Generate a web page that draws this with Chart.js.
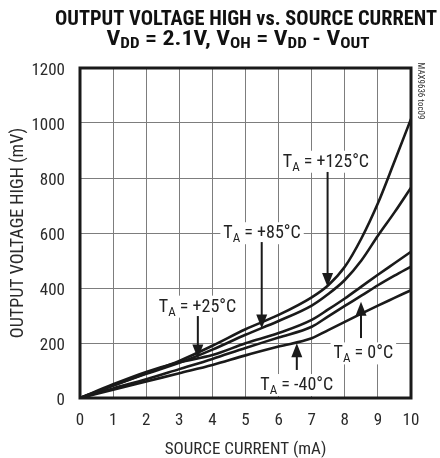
<!DOCTYPE html>
<html><head><meta charset="utf-8">
<script src="https://cdn.jsdelivr.net/npm/chart.js@4.4.0/dist/chart.umd.min.js"></script>
<style>html,body{margin:0;padding:0;background:#fff;}#wrap{width:440px;height:458px;}</style>
</head><body><div id="wrap"><canvas id="c" width="440" height="458"></canvas></div>
<script>
// ---- data ----
const sourceCurrent = [0, 1, 2, 3, 4, 5, 6, 7, 7.5, 8, 8.5, 9, 9.5, 10];          // mA
const voh125 = [0, 45, 90, 135, 190, 250, 302, 366, 410, 477, 580, 708, 860, 1015];  // mV
const voh85  = [0, 45, 88, 128, 176, 230, 280, 336, 378, 429, 500, 590, 675, 765];
const voh25  = [0, 50, 95, 130, 156, 199, 236, 284, 322, 362, 405, 448, 490, 532];
const voh0   = [0, 35, 68, 105, 142, 182, 220, 259, 297, 335, 372, 410, 445, 478];
const vohM40 = [0, 30, 60, 90, 120, 155, 187, 217, 247, 277, 307, 336, 364, 392];
const xTicks = [0, 1, 2, 3, 4, 5, 6, 7, 8, 9, 10];
const yTicks = [0, 200, 400, 600, 800, 1000, 1200];
const tempLabels = ['+125°C', '+85°C', '+25°C', '0°C', '-40°C'];
// label anchor (centre x, baseline y) and arrow (x, from y, to y) in data units
const labelAt = [[7.43, 841], [5.5, 581], [3.55, 314], [8.56, 144], [6.55, 29]];
const arrowAt = [[7.48, 822, 404], [5.49, 567, 253], [3.56, 298, 144], [8.49, 218, 350], [6.55, 102, 199]];

const FONT = "'Liberation Sans Narrow', 'Roboto Condensed', 'Liberation Sans', Arial, sans-serif";
const INK = '#1a1a1a';

function toPts(ys) { return sourceCurrent.map((x, i) => ({ x: x, y: ys[i] })); }
const series = [voh125, voh85, voh25, voh0, vohM40];

function drawRich(ctx, parts, cx, base, targetW, size, subSize, subDrop, weight) {
  let w = 0;
  const widths = parts.map(p => {
    ctx.font = weight + ' ' + (p.sub ? subSize : size) + 'px ' + FONT;
    const m = ctx.measureText(p.t).width; w += m; return m;
  });
  const sx = targetW ? targetW / w : 1;
  ctx.save();
  ctx.translate(cx - (w * sx) / 2, base);
  ctx.scale(sx, 1);
  let x = 0;
  ctx.textBaseline = 'alphabetic';
  ctx.textAlign = 'left';
  parts.forEach((p, i) => {
    ctx.font = weight + ' ' + (p.sub ? subSize : size) + 'px ' + FONT;
    ctx.fillText(p.t, x, p.sub ? subDrop : 0);
    x += widths[i];
  });
  ctx.restore();
  return w * sx;
}

const deco = {
  id: 'deco',
  beforeDatasetsDraw(chart) {
    const { ctx, chartArea: a } = chart;
    ctx.save();
    ctx.strokeStyle = INK; ctx.lineWidth = 3;
    ctx.strokeRect(a.left, a.top, a.right - a.left, a.bottom - a.top);
    ctx.restore();
  },
  afterDatasetsDraw(chart) {
    const { ctx } = chart;
    const xs = chart.scales.x, ys = chart.scales.y;
    ctx.save();
    ctx.fillStyle = INK;
    tempLabels.forEach((lab, i) => {
      const cx = xs.getPixelForValue(labelAt[i][0]);
      const by = ys.getPixelForValue(labelAt[i][1]);
      const parts = [{ t: 'T' }, { t: 'A', sub: true }, { t: ' = ' + lab }];
      let w = 0;
      parts.forEach(p => { ctx.font = (p.sub ? 13 : 18) + 'px ' + FONT; w += ctx.measureText(p.t).width; });
      ctx.fillStyle = '#fff';
      ctx.fillRect(cx - w / 2 - 3, by - 16, w + 6, 22);
      ctx.fillStyle = '#222';
      drawRich(ctx, parts, cx, by, 0, 18, 13, 4, 'normal');
      const ax = xs.getPixelForValue(arrowAt[i][0]);
      const y0 = ys.getPixelForValue(arrowAt[i][1]);
      const y1 = ys.getPixelForValue(arrowAt[i][2]);
      const dir = y1 > y0 ? 1 : -1;
      const headL = 14, headW = 5.5;
      ctx.fillStyle = INK;
      ctx.strokeStyle = INK; ctx.lineWidth = 2;
      ctx.beginPath(); ctx.moveTo(ax, y0); ctx.lineTo(ax, y1 - dir * headL + dir * 1); ctx.stroke();
      ctx.beginPath();
      ctx.moveTo(ax, y1);
      ctx.lineTo(ax - headW, y1 - dir * headL);
      ctx.lineTo(ax + headW, y1 - dir * headL);
      ctx.closePath(); ctx.fill();
    });
    ctx.restore();
  },
  afterDraw(chart) {
    const { ctx, chartArea: a } = chart;
    ctx.save();
    ctx.fillStyle = '#111';
    drawRich(ctx, [{ t: 'OUTPUT VOLTAGE HIGH vs. SOURCE CURRENT' }], 246, 25, 382, 21, 14, 3, 'bold');
    drawRich(ctx, [
      { t: 'V' }, { t: 'DD', sub: true }, { t: ' = 2.1V, V' }, { t: 'OH', sub: true },
      { t: ' = V' }, { t: 'DD', sub: true }, { t: ' - V' }, { t: 'OUT', sub: true }
    ], 238, 45, 263, 21, 15, 3, 'bold');
    ctx.fillStyle = '#2a2a2a';
    ctx.font = '17px ' + FONT;
    ctx.textAlign = 'center'; ctx.textBaseline = 'alphabetic';
    ctx.fillText('SOURCE CURRENT (mA)', (a.left + a.right) / 2, 454);
    ctx.save();
    ctx.translate(23, (a.top + a.bottom) / 2);
    ctx.rotate(-Math.PI / 2);
    ctx.font = '18px ' + FONT;
    ctx.fillText('OUTPUT VOLTAGE HIGH (mV)', 0, 0);
    ctx.restore();
    ctx.save();
    ctx.translate(420, 91);
    ctx.rotate(Math.PI / 2);
    ctx.font = '9px ' + FONT;
    ctx.fillStyle = '#333';
    ctx.textAlign = 'center'; ctx.textBaseline = 'middle';
    ctx.fillText('MAX9636 toc09', 0, 0);
    ctx.restore();
    ctx.restore();
  }
};

new Chart(document.getElementById('c'), {
  type: 'line',
  data: {
    datasets: series.map((s, i) => ({
      label: tempLabels[i],
      data: toPts(s),
      borderColor: INK,
      borderWidth: 2.6,
      pointRadius: 0,
      fill: false,
      cubicInterpolationMode: 'monotone'
    }))
  },
  options: {
    responsive: false,
    animation: false,
    devicePixelRatio: 1,
    layout: { padding: { top: 68, right: 29, left: 0, bottom: 0 } },
    plugins: { legend: { display: false }, title: { display: false }, tooltip: { enabled: false } },
    scales: {
      x: {
        type: 'linear', min: 0, max: 10,
        afterFit: s => { s.height = 60; },
        afterBuildTicks: s => { s.ticks = xTicks.map(v => ({ value: v })); },
        grid: { color: '#7d7d7d', lineWidth: 1, drawTicks: false },
        border: { display: false },
        ticks: { font: { family: FONT, size: 17 }, color: '#2a2a2a', padding: 13, callback: v => String(v) }
      },
      y: {
        type: 'linear', min: 0, max: 1200,
        afterFit: s => { s.width = 80; },
        afterBuildTicks: s => { s.ticks = yTicks.map(v => ({ value: v })); },
        grid: { color: '#7d7d7d', lineWidth: 1, drawTicks: false },
        border: { display: false },
        ticks: { font: { family: FONT, size: 17 }, color: '#2a2a2a', padding: 15, labelOffset: 3, callback: v => String(v) }
      }
    }
  },
  plugins: [deco]
});
</script>
</body></html>
